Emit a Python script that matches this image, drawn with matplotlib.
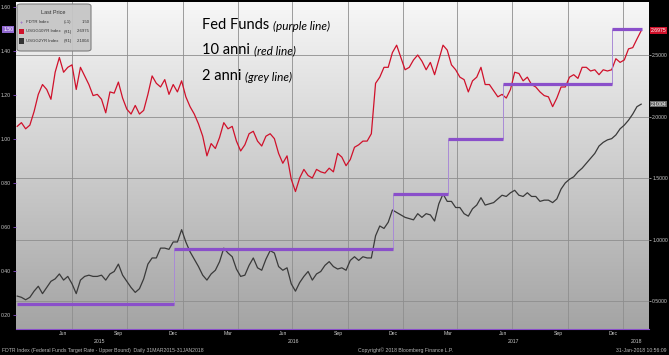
import numpy as np
import pandas as pd
import matplotlib
matplotlib.use('Agg')
import matplotlib.pyplot as plt
import matplotlib.dates as mdates
from matplotlib.transforms import blended_transform_factory
from matplotlib.patches import FancyBboxPatch, Rectangle
from matplotlib.colors import LinearSegmentedColormap

plt.rcParams['font.family'] = ['Liberation Sans', 'DejaVu Sans']

W, H = 669, 355

# ---------------- data ----------------
week_dates = pd.date_range('2015-03-31', periods=149, freq='7D')

us10y = [1.92, 1.95, 1.90, 1.93, 2.04, 2.18, 2.26, 2.22, 2.14, 2.36,
         2.48, 2.36, 2.40, 2.42, 2.22, 2.40, 2.33, 2.26, 2.17, 2.18,
         2.14, 2.03, 2.20, 2.19, 2.28, 2.15, 2.06, 2.02, 2.09, 2.02,
         2.05, 2.18, 2.33, 2.27, 2.24, 2.30, 2.18, 2.26, 2.20, 2.29,
         2.16, 2.08, 2.02, 1.94, 1.84, 1.68, 1.78, 1.74, 1.83, 1.95,
         1.90, 1.92, 1.80, 1.72, 1.77, 1.86, 1.88, 1.80, 1.76, 1.84,
         1.86, 1.82, 1.70, 1.62, 1.68, 1.49, 1.39, 1.50, 1.57, 1.52,
         1.50, 1.57, 1.55, 1.54, 1.58, 1.55, 1.70, 1.67, 1.60, 1.65,
         1.75, 1.77, 1.80, 1.80, 1.86, 2.27, 2.32, 2.40, 2.40, 2.52,
         2.58, 2.48, 2.38, 2.40, 2.46, 2.50, 2.45, 2.38, 2.44, 2.34,
         2.46, 2.58, 2.54, 2.42, 2.38, 2.32, 2.30, 2.20, 2.29, 2.32,
         2.40, 2.26, 2.26, 2.21, 2.16, 2.18, 2.15, 2.22, 2.36, 2.35,
         2.29, 2.32, 2.26, 2.24, 2.20, 2.17, 2.16, 2.08, 2.15, 2.24,
         2.24, 2.32, 2.34, 2.31, 2.40, 2.40, 2.37, 2.38, 2.34, 2.38,
         2.37, 2.38, 2.47, 2.44, 2.46, 2.55, 2.56, 2.63, 2.6975]

us2y = [0.54, 0.53, 0.51, 0.53, 0.58, 0.62, 0.56, 0.61, 0.66, 0.68,
        0.72, 0.67, 0.70, 0.64, 0.56, 0.67, 0.70, 0.71, 0.70, 0.70,
        0.71, 0.67, 0.72, 0.74, 0.80, 0.71, 0.66, 0.61, 0.57, 0.60,
        0.68, 0.80, 0.85, 0.85, 0.93, 0.93, 0.92, 0.98, 0.98, 1.08,
        0.98, 0.90, 0.84, 0.78, 0.71, 0.67, 0.72, 0.75, 0.82, 0.93,
        0.89, 0.86, 0.76, 0.70, 0.71, 0.79, 0.85, 0.77, 0.75, 0.84,
        0.91, 0.89, 0.78, 0.75, 0.77, 0.64, 0.58, 0.65, 0.70, 0.74,
        0.67, 0.72, 0.74, 0.79, 0.82, 0.78, 0.76, 0.77, 0.75, 0.83,
        0.86, 0.83, 0.86, 0.85, 0.85, 1.03, 1.11, 1.09, 1.14, 1.24,
        1.22, 1.20, 1.18, 1.17, 1.16, 1.21, 1.18, 1.21, 1.20, 1.15,
        1.29, 1.37, 1.31, 1.31, 1.26, 1.26, 1.21, 1.19, 1.25, 1.28,
        1.34, 1.28, 1.29, 1.30, 1.33, 1.36, 1.35, 1.38, 1.40, 1.36,
        1.35, 1.38, 1.35, 1.35, 1.31, 1.32, 1.32, 1.30, 1.33, 1.41,
        1.46, 1.49, 1.51, 1.55, 1.58, 1.62, 1.66, 1.70, 1.76, 1.79,
        1.81, 1.82, 1.85, 1.90, 1.93, 1.97, 2.02, 2.08, 2.1004]

fed_change_dates = ['2015-03-31', '2015-12-16', '2016-12-14',
                    '2017-03-15', '2017-06-14', '2017-12-13']
fed_end_date = '2018-01-31'
fed_levels = [0.25, 0.50, 0.75, 1.00, 1.25, 1.50]

left_ticks = [0.2, 0.4, 0.6, 0.8, 1.0, 1.2, 1.4, 1.6]
right_ticks = [0.5, 1.0, 1.5, 2.0, 2.5]

month_labels = ['Jun', 'Sep', 'Dec', 'Mar', 'Jun', 'Sep', 'Dec',
                'Mar', 'Jun', 'Sep', 'Dec']
month_label_dates = ['2015-06-15', '2015-09-15', '2015-12-15', '2016-03-15',
                     '2016-06-15', '2016-09-15', '2016-12-15', '2017-03-15',
                     '2017-06-15', '2017-09-15', '2017-12-15']
grid_dates = ['2015-06-30', '2015-09-30', '2015-12-31', '2016-03-31',
              '2016-06-30', '2016-09-30', '2016-12-31', '2017-03-31',
              '2017-06-30', '2017-09-30', '2017-12-31']
year_labels = ['2015', '2016', '2017', '2018']
year_spans = [('2015-03-29', '2015-12-31'), ('2016-01-01', '2016-12-31'),
              ('2017-01-01', '2017-12-31'), ('2018-01-01', '2018-02-12')]
x_range = ('2015-03-29', '2018-02-12')

# ---------------- colours ----------------
PURPLE = '#8a4fca'
PURPLE_THIN = '#a98ad6'
RED = '#d0112b'
GREY = '#3a3a3a'
LABEL = '#c8c8c8'
FS = 3.7

def d2n(s):
    return mdates.date2num(pd.to_datetime(s))

fig = plt.figure(figsize=(W / 100, H / 100), dpi=100, facecolor='black')
def fx(px):
    return px / W
def fy(py):
    return 1 - py / H

ax = fig.add_axes([fx(16), fy(329), fx(649) - fx(16), fy(2) - fy(329)])
ax2 = ax.twinx()
ax.set_facecolor('none')

xd = mdates.date2num(week_dates)

# gradient background
grad = np.linspace(0, 1, 256).reshape(-1, 1)
cmap = LinearSegmentedColormap.from_list('bg', ['#f7f7f7', '#a4a4a4'])
ax.imshow(grad, extent=[0, 1, 0, 1], transform=ax.transAxes, aspect='auto',
          cmap=cmap, zorder=0, interpolation='bicubic')

# yields on right scale
ax.plot(xd, us2y, color=GREY, lw=0.9, zorder=3)
ax.plot(xd, us10y, color=RED, lw=0.9, zorder=3)

# fed funds step on left scale
starts = [d2n(d) for d in fed_change_dates]
ends = starts[1:] + [d2n(fed_end_date)]
ax2.vlines(starts[1:], fed_levels[:-1], fed_levels[1:], color=PURPLE_THIN, lw=0.7, zorder=2)
ax2.hlines(fed_levels, starts, ends, color=PURPLE, lw=2.3, zorder=2)

ax.set_xlim(d2n(x_range[0]), d2n(x_range[1]))
ax.set_ylim(0.2724, 2.931)
ax2.set_ylim(0.1364, 1.623)

# grid
ax.set_xticks([d2n(d) for d in grid_dates])
ax.set_yticks(right_ticks)
ax.set_axisbelow(True)
ax.grid(True, color='#8e8e8e', lw=0.6)
ax.tick_params(axis='x', length=0, labelbottom=False)

# right axis labels
ax.yaxis.tick_right()
ax.set_yticklabels([f'{v:.4f}' for v in right_ticks])
ax.tick_params(axis='y', colors=LABEL, labelsize=FS, length=1.5, width=0.5, pad=0.8)

# left axis labels
ax2.yaxis.tick_left()
ax2.set_yticks(left_ticks)
ax2.set_yticklabels([f'{v:.2f}' for v in left_ticks])
ax2.tick_params(axis='y', colors=LABEL, labelsize=FS, length=2, width=0.6, pad=1.5)
ax2.tick_params(axis='y', color=PURPLE)

for a in (ax, ax2):
    for s in a.spines.values():
        s.set_visible(False)
ax.spines['bottom'].set_visible(True)
ax.spines['bottom'].set_color(PURPLE)
ax.spines['bottom'].set_linewidth(0.8)

# last value boxes
tl = blended_transform_factory(ax2.transAxes, ax2.transData)
ax2.text(-0.004, fed_levels[-1], f'{fed_levels[-1]:.2f}', transform=tl, ha='right', va='center',
         fontsize=FS, color='white',
         bbox=dict(boxstyle='square,pad=0.2', fc='#9068d0', ec='none'))
tr = blended_transform_factory(ax.transAxes, ax.transData)
ax.text(1.003, us10y[-1], f'{us10y[-1]:.4f}', transform=tr, ha='left', va='center',
        fontsize=FS, color='white',
        bbox=dict(boxstyle='square,pad=0.15', fc=RED, ec='none'))
ax.text(1.003, us2y[-1], f'{us2y[-1]:.4f}', transform=tr, ha='left', va='center',
        fontsize=FS, color='white',
        bbox=dict(boxstyle='square,pad=0.15', fc='#6a6a6a', ec='none'))

# x labels
tx = blended_transform_factory(ax.transData, fig.transFigure)
for lab, d in zip(month_labels, month_label_dates):
    ax.text(d2n(d), fy(333.5), lab, transform=tx, ha='center', va='center',
            fontsize=FS, color=LABEL, clip_on=False)
for lab, (a, b) in zip(year_labels, year_spans):
    ax.text((d2n(a) + d2n(b)) / 2, fy(341.5), lab, transform=tx, ha='center', va='center',
            fontsize=FS, color=LABEL, clip_on=False)

# footer
fig.text(fx(2), fy(350.5), 'FDTR Index (Federal Funds Target Rate - Upper Bound)  Daily 31MAR2015-31JAN2018',
         fontsize=3.7, color='#b8b8b8', ha='left', va='center')
fig.text(fx(358), fy(350), 'Copyright\u00a9 2018 Bloomberg Finance L.P.',
         fontsize=3.7, color='#b8b8b8', ha='left', va='center')
fig.text(fx(666), fy(350), '31-Jan-2018 10:56:09',
         fontsize=3.7, color='#b8b8b8', ha='right', va='center')

# legend box
leg = FancyBboxPatch((fx(17), fy(51)), fx(91) - fx(17), fy(4) - fy(51),
                     boxstyle='round,pad=0,rounding_size=0.006', transform=fig.transFigure,
                     fc='#c6c6c6', ec='#7a7a7a', lw=0.8, alpha=0.95, zorder=10)
fig.patches.append(leg)
fig.text(fx(53), fy(12), 'Last Price', fontsize=4.0, color='#333333', ha='center', va='center', zorder=11)
rows = [('FDTR Index', '(L1)', f'{fed_levels[-1]:.2f}', PURPLE, 22),
        ('USGG10YR Index', '(R1)', f'{us10y[-1]:.4f}', RED, 31.5),
        ('USGG2YR Index', '(R1)', f'{us2y[-1]:.4f}', '#333333', 41)]
for i, (name, side, val, col, yy) in enumerate(rows):
    if i == 0:
        fig.text(fx(21.5), fy(yy), '+', fontsize=4.0, color=col, ha='center', va='center', zorder=11)
    else:
        fig.patches.append(Rectangle((fx(19), fy(yy + 2.8)), fx(5), fy(0) - fy(5.6),
                                     transform=fig.transFigure, fc=col, ec='none', zorder=11))
    fig.text(fx(26), fy(yy), name, fontsize=3.1, color='#333333', ha='left', va='center', zorder=11)
    fig.text(fx(64), fy(yy), side, fontsize=3.1, color='#333333', ha='left', va='center', zorder=11)
    fig.text(fx(89.5), fy(yy), val, fontsize=3.1, color='#333333', ha='right', va='center', zorder=11)

# annotation text
ann = [('Fed Funds', '(purple line)', 25), ('10 anni', '(red line)', 50), ('2 anni', '(grey line)', 76)]
fig.canvas.draw()
renderer = fig.canvas.get_renderer()
for main, sub, yy in ann:
    t = fig.text(fx(202), fy(yy), main, fontsize=10.5, family='Lato', color='black',
                 ha='left', va='center')
    bb = t.get_window_extent(renderer)
    fig.text(bb.x1 / W + fx(3.5), fy(yy + 1), sub, fontsize=8.5, family='Lato', style='italic',
             color='black', ha='left', va='center')

fig.savefig('out.png', dpi=100, facecolor='black')
